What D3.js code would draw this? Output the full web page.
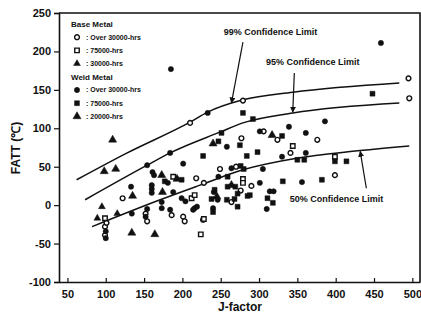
<!DOCTYPE html>
<html>
<head>
<meta charset="utf-8">
<script src="https://cdn.jsdelivr.net/npm/d3@7"></script>
<style>
  body { margin: 0; background: #fff; }
  text { font-family: "Liberation Sans Narrow", "Liberation Sans", Arial, sans-serif; font-weight: bold; fill: #111; }
</style>
</head>
<body>
<svg id="chart" width="421" height="320"></svg>
<script>
// tick labels
var xTicks = [50, 100, 150, 200, 250, 300, 350, 400, 450, 500];
var yTicks = [-100, -50, 0, 50, 100, 150, 200, 250];

// base metal (J-factor, FATT)
var baseOver30000 = [[279,136],[210,107],[495,165],[496,139],[277,87],[306,96],[324,85],[376,85],[341,68],
  [399,39],[249,47],[270,50],[218,35],[228,29],[290,25],[264,4],[227,-19],[122,9],[152,-11],[154,-21],
  [186,-13],[201,-15],[203,-21],[99,-28],[99,-39],[101,-23],[276,19]];
var base75000 = [[344,77],[399,63],[279,34],[279,29],[228,-18],[224,-38],[188,37],[212,9],[216,13],[99,-17]];
var base30000 = [[95,-2],[89,-17],[115,-11]];

// weld metal
var weldOver30000 = [[185,177],[459,211],[233,120],[386,109],[301,96],[339,102],[361,94],[330,63],[361,68],
  [356,30],[301,29],[305,47],[258,76],[264,48],[247,37],[314,18],[319,18],[241,17],[246,7],[310,-5],
  [216,-4],[201,54],[184,68],[154,52],[161,43],[163,39],[181,29],[133,24],[160,26],[160,21],[160,16],
  [188,17],[199,9],[204,5],[134,-11],[173,4],[154,-5],[152,-15],[173,-4],[184,-6],[214,-6],[219,-2],
  [240,-4],[100,-34],[100,-43]];
var weld75000 = [[448,145],[279,120],[292,112],[251,94],[247,83],[330,90],[350,59],[359,59],[399,57],
  [414,57],[382,33],[331,31],[275,78],[227,64],[284,64],[298,69],[276,51],[280,47],[259,37],[259,24],
  [272,15],[285,12],[268,8],[272,-2],[238,8],[311,9],[318,3],[240,-9],[288,13],[269,24],[177,31],
  [199,33],[242,20],[258,7]];
var weld20000 = [[109,85],[240,80],[317,91],[98,44],[113,47],[173,39],[193,34],[264,26],[135,12],
  [174,17],[245,11],[134,-36],[164,-38]];

// confidence limit curves
var limit99 = [[62,33],[128,68],[210,108],[233,121],[279,137],[344,147],[483,159]];
var limit95 = [[73,7],[154,52],[184,68],[249,95],[279,107],[344,120],[483,133]];
var limit50 = [[82,-28],[171,7],[223,26],[279,46],[349,61],[422,70],[496,77]];

// annotations: label, label position, arrow from, arrow to
var notes = [
  { label: "99% Confidence Limit", at: [315, 226], from: [279, 212], to: [264, 133] },
  { label: "95% Confidence Limit", at: [370, 186], from: [346, 172], to: [344, 121] },
  { label: "50% Confidence Limit", at: [401, 8],   from: [440, 22],  to: [432, 70] }
];

var svg = d3.select("#chart");
var x = d3.scaleLinear().domain([39, 510]).range([59, 420]);
var y = d3.scaleLinear().domain([-100, 250]).range([282, 13]);

svg.append("defs").append("marker")
  .attr("id", "head").attr("viewBox", "0 0 10 10").attr("refX", 9).attr("refY", 5)
  .attr("markerWidth", 5).attr("markerHeight", 5).attr("orient", "auto")
  .append("path").attr("d", "M0,0L10,5L0,10z").attr("fill", "#111");

// frame
svg.append("path")
  .attr("d", "M" + x(39) + "," + y(250) + "H" + x(510) + "V" + y(-100))
  .attr("fill", "none").attr("stroke", "#111").attr("stroke-width", 1.6);

var plain = function (d) { return String(d); };
var yAxis = svg.append("g").attr("transform", "translate(" + x(39) + ",0)")
  .call(d3.axisLeft(y).tickValues(yTicks).tickSize(5).tickPadding(3).tickFormat(plain));
var xAxis = svg.append("g").attr("transform", "translate(0," + y(-100) + ")")
  .call(d3.axisBottom(x).tickValues(xTicks).tickSizeInner(-4).tickSizeOuter(0).tickPadding(8).tickFormat(plain));
[xAxis, yAxis].forEach(function (g) {
  g.select(".domain").attr("stroke", "#111").attr("stroke-width", 1.6);
  g.selectAll(".tick line").attr("stroke", "#111").attr("stroke-width", 1.2);
  g.selectAll("text").attr("font-size", 11).attr("fill", "#111")
    .style("font-family", "'Liberation Sans Narrow','Liberation Sans',Arial,sans-serif").style("font-weight", "bold");
});

// axis titles
svg.append("text").attr("transform", "translate(20,148) rotate(-90)")
  .attr("text-anchor", "middle").attr("font-size", 12).text("FATT (\u2103)");
svg.append("text").attr("x", 240).attr("y", 311)
  .attr("text-anchor", "middle").attr("font-size", 12).text("J-factor");

// curves
var line = d3.line().x(function (d) { return x(d[0]); }).y(function (d) { return y(d[1]); })
  .curve(d3.curveMonotoneX);
[limit99, limit95, limit50].forEach(function (c) {
  svg.append("path").datum(c).attr("d", line)
    .attr("fill", "none").attr("stroke", "#111").attr("stroke-width", 1.5);
});

// points
var series = [
  { data: baseOver30000, type: d3.symbolCircle, size: 18, open: true },
  { data: base75000, type: d3.symbolSquare, size: 20, open: true },
  { data: base30000, type: d3.symbolTriangle, size: 20, open: false },
  { data: weldOver30000, type: d3.symbolCircle, size: 22, open: false },
  { data: weld75000, type: d3.symbolSquare, size: 24, open: false },
  { data: weld20000, type: d3.symbolTriangle, size: 28, open: false }
];
series.forEach(function (s) {
  svg.append("g").selectAll("path").data(s.data).enter().append("path")
    .attr("transform", function (d) { return "translate(" + x(d[0]) + "," + y(d[1]) + ")"; })
    .attr("d", d3.symbol().type(s.type).size(s.size))
    .attr("fill", s.open ? "#fff" : "#111")
    .attr("stroke", "#111").attr("stroke-width", s.open ? 1.4 : 0.5);
});

// annotations
notes.forEach(function (n) {
  svg.append("line")
    .attr("x1", x(n.from[0])).attr("y1", y(n.from[1]))
    .attr("x2", x(n.to[0])).attr("y2", y(n.to[1]))
    .attr("stroke", "#111").attr("stroke-width", 1.2).attr("marker-end", "url(#head)");
  svg.append("text").attr("x", x(n.at[0])).attr("y", y(n.at[1])).attr("dy", "0.35em")
    .attr("text-anchor", "middle").attr("font-size", 9).text(n.label);
});

// legend
var legendRows = [
  { head: "Base Metal" },
  { s: series[0], label: ": Over 30000-hrs" },
  { s: series[1], label: ": 75000-hrs" },
  { s: series[2], label: ": 30000-hrs" },
  { head: "Weld Metal" },
  { s: series[3], label: ": Over 30000-hrs" },
  { s: series[4], label: ": 75000-hrs" },
  { s: series[5], label: ": 20000-hrs" }
];
var lg = svg.append("g").attr("transform", "translate(70,24)");
legendRows.forEach(function (r, i) {
  var ry = i * 13.2;
  if (r.head) {
    lg.append("text").attr("x", 1).attr("y", ry).attr("dy", "0.35em").attr("font-size", 8).text(r.head);
  } else {
    lg.append("path").attr("transform", "translate(7," + ry + ")")
      .attr("d", d3.symbol().type(r.s.type).size(r.s.size))
      .attr("fill", r.s.open ? "#fff" : "#111").attr("stroke", "#111").attr("stroke-width", r.s.open ? 1.4 : 0.5);
    lg.append("text").attr("x", 16).attr("y", ry).attr("dy", "0.35em").attr("font-size", 7).text(r.label);
  }
});
</script>
</body>
</html>
